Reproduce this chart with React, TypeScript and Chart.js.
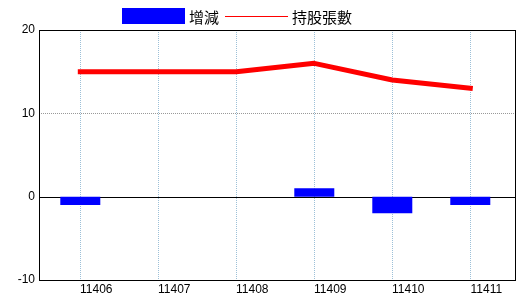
import React, { useEffect, useRef } from "react";
import { Chart, registerables } from "chart.js";

Chart.register(...registerables);

const categories = ["11406", "11407", "11408", "11409", "11410", "11411"];
const changeValues = [-1, 0, 0, 1, -2, -1];
const holdingValues = [15, 15, 15, 16, 14, 13];
const seriesLabels = ["增減", "持股張數"];
const yTicks = [-10, 0, 10, 20];

const frameAndZeroPlugin = {
  id: "frameAndZero",
  beforeDatasetsDraw(chart: any) {
    const { ctx, chartArea } = chart;
    const y = chart.scales.y.getPixelForValue(0);
    ctx.save();
    ctx.strokeStyle = "#000";
    ctx.lineWidth = 1;
    ctx.beginPath();
    const yy = Math.round(y) + 0.5;
    ctx.moveTo(chartArea.left, yy);
    ctx.lineTo(chartArea.right, yy);
    ctx.stroke();
    ctx.restore();
  },
  afterDraw(chart: any) {
    const { ctx, chartArea } = chart;
    ctx.save();
    ctx.strokeStyle = "#000";
    ctx.lineWidth = 1;
    ctx.strokeRect(
      chartArea.left + 0.5,
      chartArea.top + 0.5,
      chartArea.right - chartArea.left - 1,
      chartArea.bottom - chartArea.top
    );
    ctx.restore();
  },
};

const customLegendPlugin = {
  id: "customLegend",
  afterDraw(chart: any) {
    const { ctx } = chart;
    ctx.save();
    ctx.font = '15px "Noto Sans CJK TC", "Noto Sans CJK SC", sans-serif';
    ctx.textBaseline = "middle";
    ctx.textAlign = "left";
    let x = 122;
    const cy = 16;
    chart.data.datasets.forEach((ds: any, i: number) => {
      if (i > 0) x += 6;
      if (ds.type === "line") {
        ctx.strokeStyle = ds.borderColor;
        ctx.lineWidth = 1;
        ctx.beginPath();
        ctx.moveTo(x, cy + 0.5);
        ctx.lineTo(x + 63, cy + 0.5);
        ctx.stroke();
      } else {
        ctx.fillStyle = ds.backgroundColor;
        ctx.fillRect(x, 8, 63, 16);
      }
      x += 63 + 4;
      ctx.fillStyle = "#000";
      ctx.fillText(ds.label, x, cy + 1);
      x += ctx.measureText(ds.label).width;
    });
    ctx.restore();
  },
};

export default function App() {
  const canvasRef = useRef<HTMLCanvasElement | null>(null);

  useEffect(() => {
    if (!canvasRef.current) return;
    const tickFont = { family: '"Liberation Sans", Arial, sans-serif', size: 12 };
    const chart = new Chart(canvasRef.current, {
      type: "bar",
      data: {
        datasets: [
          {
            type: "bar",
            label: seriesLabels[0],
            data: changeValues.map((v, i) => ({ x: i, y: v })),
            backgroundColor: "#0000ff",
            borderWidth: 0,
            inflateAmount: 0,
            barThickness: 40,
          } as any,
          {
            type: "line",
            label: seriesLabels[1],
            data: holdingValues.map((v, i) => ({ x: i, y: v })),
            borderColor: "#ff0000",
            backgroundColor: "#ff0000",
            borderWidth: 5,
            pointRadius: 0,
            tension: 0,
            borderCapStyle: "square",
            borderJoinStyle: "round",
          } as any,
        ],
      },
      options: {
        animation: false,
        responsive: false,
        devicePixelRatio: 1,
        layout: { padding: { top: 30, right: 4, left: 0, bottom: 0 } },
        plugins: {
          legend: { display: false },
          tooltip: { enabled: false },
        },
        scales: {
          x: {
            type: "linear",
            min: -0.5295,
            max: 5.586,
            offset: false,
            afterFit: (scale: any) => {
              scale.height = 20;
            },
            grid: {
              offset: false,
              color: "#9cc0d8",
              drawTicks: false,
              lineWidth: 1,
            },
            border: { display: false, dash: [1, 1] },
            ticks: {
              stepSize: 1,
              includeBounds: false,
              autoSkip: false,
              maxRotation: 0,
              labelOffset: 16,
              padding: 2,
              color: "#000",
              font: tickFont,
              callback: (v: any) => (Number.isInteger(v) && categories[v] !== undefined ? categories[v] : ""),
            },
          },
          y: {
            type: "linear",
            min: yTicks[0],
            max: yTicks[yTicks.length - 1],
            afterFit: (scale: any) => {
              scale.width = 39;
            },
            afterBuildTicks: (scale: any) => {
              scale.ticks = yTicks.map((v) => ({ value: v }));
            },
            grid: {
              color: "#999999",
              drawTicks: false,
              lineWidth: (c: any) => (c.tick && c.tick.value === 0 ? 0 : 1),
            },
            border: { display: false, dash: [1, 1] },
            ticks: {
              padding: 4,
              color: "#000",
              font: tickFont,
            },
          },
        },
      } as any,
      plugins: [frameAndZeroPlugin, customLegendPlugin],
    });
    return () => chart.destroy();
  }, []);

  return (
    <div style={{ position: "absolute", left: 0, top: 0, width: 520, height: 300, background: "#fff" }}>
      <canvas ref={canvasRef} width={520} height={300} style={{ display: "block" }} />
    </div>
  );
}
